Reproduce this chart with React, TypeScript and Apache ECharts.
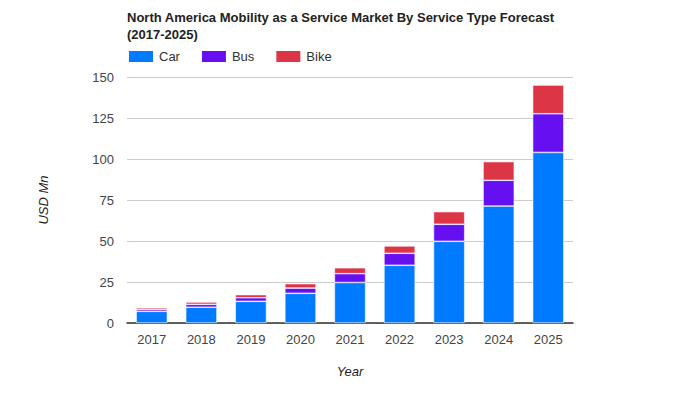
import React, { useEffect, useRef } from "react";
import * as echarts from "echarts";

const years = ["2017", "2018", "2019", "2020", "2021", "2022", "2023", "2024", "2025"];
const carValues = [7.1, 9.6, 13.2, 18.1, 24.7, 35.2, 49.8, 71.3, 104.0];
const busValues = [1.2, 1.8, 2.2, 3.2, 5.4, 7.3, 10.4, 15.7, 23.6];
const bikeValues = [1.0, 1.4, 1.9, 2.7, 3.6, 4.5, 7.7, 11.4, 17.5];
const yTicks = { min: 0, max: 150, interval: 25 };

const FONT = "'Liberation Sans', Arial, sans-serif";

export default function App() {
  const ref = useRef<HTMLDivElement>(null);
  useEffect(() => {
    document.body.style.margin = "0";
    if (!ref.current) return;
    const chart = echarts.init(ref.current, undefined, { renderer: "svg" });
    const seriesDef = [
      { name: "Car", data: carValues, color: "#007bff" },
      { name: "Bus", data: busValues, color: "#6610f2" },
      { name: "Bike", data: bikeValues, color: "#dc3545" },
    ];
    chart.setOption({
      animation: false,
      textStyle: { fontFamily: FONT },
      title: {
        text: "North America Mobility as a Service Market By Service Type Forecast\n(2017-2025)",
        left: 122,
        top: 4,
        textStyle: { fontSize: 13, fontWeight: "bold", color: "#222", lineHeight: 17, fontFamily: FONT },
      },
      legend: {
        left: 122,
        top: 44,
        itemWidth: 26,
        itemHeight: 13,
        itemGap: 20,
        icon: "rect",
        textStyle: { fontSize: 13, color: "#333", fontFamily: FONT },
        data: ["Car", "Bus", "Bike"],
      },
      grid: { left: 127, right: 127, top: 77, bottom: 77, containLabel: false },
      xAxis: {
        type: "category",
        data: years,
        name: "Year",
        nameLocation: "middle",
        nameGap: 42,
        nameTextStyle: { fontStyle: "italic", fontSize: 13, color: "#222", fontFamily: FONT },
        axisLine: { lineStyle: { color: "#333", width: 1.5 } },
        axisTick: { show: false },
        axisLabel: { fontSize: 13, color: "#444", margin: 10, fontFamily: FONT },
      },
      yAxis: {
        type: "value",
        min: yTicks.min,
        max: yTicks.max,
        interval: yTicks.interval,
        name: "USD Mn",
        nameLocation: "middle",
        nameGap: 77,
        nameTextStyle: { fontStyle: "italic", fontSize: 13, color: "#222", fontFamily: FONT },
        axisLine: { show: false },
        axisTick: { show: false },
        axisLabel: { fontSize: 13, color: "#444", margin: 13, fontFamily: FONT },
        splitLine: { lineStyle: { color: "#ccc", width: 1 } },
      },
      series: seriesDef.map((s) => ({
        name: s.name,
        type: "bar",
        stack: "total",
        data: s.data,
        barWidth: "63%",
        itemStyle: { color: s.color, borderColor: "#fff", borderWidth: 0.6 },
      })),
    });
    return () => chart.dispose();
  }, []);
  return <div ref={ref} style={{ width: 700, height: 400 }} />;
}
